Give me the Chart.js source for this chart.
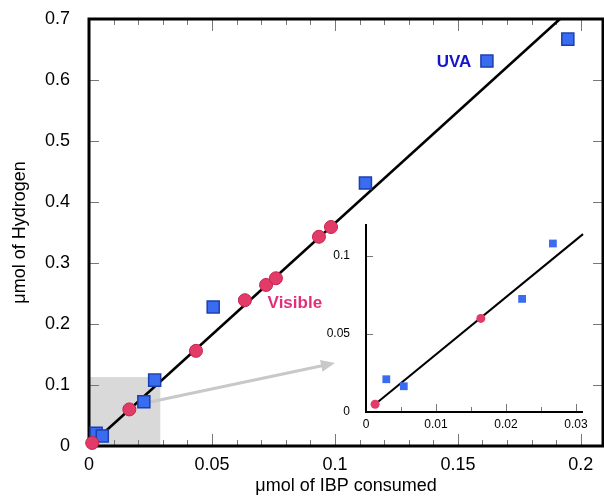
<!DOCTYPE html>
<html>
<head>
<meta charset="utf-8">
<script src="https://cdn.jsdelivr.net/npm/chart.js@4.4.1/dist/chart.umd.min.js"></script>
<style>
  body { margin: 0; background: #fff; }
  #wrap { position: relative; width: 604px; height: 497px; }
  #main { position: absolute; left: 0; top: 0; }
  #inset { position: absolute; left: 316px; top: 212px; }
</style>
</head>
<body>
<div id="wrap">
  <canvas id="main" width="604" height="497"></canvas>
  <canvas id="inset" width="286" height="228"></canvas>
</div>
<script>
// data (µmol)
const visibleX = [0.0013, 0.0164, 0.0435, 0.0634, 0.072, 0.076, 0.0935, 0.0984];
const visibleY = [0.005, 0.06, 0.156, 0.239, 0.264, 0.275, 0.343, 0.359];
const uvaX = [0.0029, 0.0054, 0.0223, 0.0267, 0.0505, 0.1124, 0.1618, 0.1947];
const uvaY = [0.021, 0.0165, 0.0725, 0.108, 0.228, 0.431, 0.631, 0.667];
const fitX = [0.002, 0.1915];
const fitY = [0.007, 0.7];
const insetFitX = [0.0013, 0.031];
const insetFitY = [0.005, 0.114];

const xTicks = [0, 0.05, 0.1, 0.15, 0.2];
const yTicks = [0, 0.1, 0.2, 0.3, 0.4, 0.5, 0.6, 0.7];
const insetXTicks = [0, 0.01, 0.02, 0.03];
const insetYTicks = [0, 0.05, 0.1];

const FONT = "'Liberation Sans', Arial, sans-serif";
const RED = '#e33b68';
const BLUE = '#3a6cf2';

const pts = (xs, ys) => xs.map((x, i) => ({ x: x, y: ys[i] }));
const insetMax = 0.031;
const inInset = (xs, ys) => pts(xs, ys).filter(p => p.x <= insetMax);

// grey zoom box + arrow + ticks + frame on the main chart
const mainDecor = {
  id: 'mainDecor',
  beforeDatasetsDraw(chart) {
    const { ctx, chartArea: a, scales: { x, y } } = chart;
    ctx.save();
    // zoom box
    ctx.fillStyle = '#d9d9d9';
    const bx = x.getPixelForValue(0.029), by = y.getPixelForValue(0.113);
    ctx.fillRect(a.left, by, bx - a.left, a.bottom - by);

    // arrow to the inset
    const x0 = x.getPixelForValue(0.0248), y0 = y.getPixelForValue(0.072);
    const x1 = x.getPixelForValue(0.1), y1 = y.getPixelForValue(0.136);
    const ang = Math.atan2(y1 - y0, x1 - x0);
    ctx.strokeStyle = '#c8c8c8';
    ctx.fillStyle = '#c8c8c8';
    ctx.lineWidth = 3;
    ctx.beginPath();
    ctx.moveTo(x0, y0);
    ctx.lineTo(x1 - 12 * Math.cos(ang), y1 - 12 * Math.sin(ang));
    ctx.stroke();
    ctx.beginPath();
    ctx.moveTo(x1, y1);
    ctx.lineTo(x1 - 14 * Math.cos(ang) + 6 * Math.sin(ang), y1 - 14 * Math.sin(ang) - 6 * Math.cos(ang));
    ctx.lineTo(x1 - 14 * Math.cos(ang) - 6 * Math.sin(ang), y1 - 14 * Math.sin(ang) + 6 * Math.cos(ang));
    ctx.closePath();
    ctx.fill();

    // ticks (inward)
    ctx.strokeStyle = '#777';
    ctx.lineWidth = 1;
    ctx.beginPath();
    for (let i = 1; i <= 20; i++) {
      const px = Math.round(x.getPixelForValue(i / 100)) + 0.5;
      const len = i % 5 === 0 ? 12 : 6;
      ctx.moveTo(px, a.bottom); ctx.lineTo(px, a.bottom - len);
      ctx.moveTo(px, a.top); ctx.lineTo(px, a.top + len);
    }
    for (let i = 1; i <= 6; i++) {
      const py = Math.round(y.getPixelForValue(i / 10)) + 0.5;
      ctx.moveTo(a.left, py); ctx.lineTo(a.left + 10, py);
      ctx.moveTo(a.right, py); ctx.lineTo(a.right - 10, py);
    }
    ctx.stroke();

    // frame
    ctx.strokeStyle = '#000';
    ctx.lineWidth = 3;
    ctx.strokeRect(a.left, a.top, a.right - a.left, a.bottom - a.top);
    ctx.restore();
  },
  afterDatasetsDraw(chart) {
    const { ctx, scales: { x, y } } = chart;
    ctx.save();
    ctx.font = 'bold 17px ' + FONT;
    ctx.textAlign = 'center';
    ctx.textBaseline = 'middle';
    ctx.fillStyle = '#1414c8';
    ctx.fillText('UVA', x.getPixelForValue(0.1484), y.getPixelForValue(0.6295));
    ctx.fillStyle = '#e0307a';
    ctx.fillText('Visible', x.getPixelForValue(0.0837), y.getPixelForValue(0.2344));
    ctx.restore();
  }
};

const insetDecor = {
  id: 'insetDecor',
  beforeDatasetsDraw(chart) {
    const { ctx, chartArea: a, scales: { x, y } } = chart;
    ctx.save();
    ctx.strokeStyle = '#777';
    ctx.lineWidth = 1;
    ctx.beginPath();
    for (let i = 1; i <= 6; i++) {
      const px = Math.round(x.getPixelForValue(i * 0.005)) + 0.5;
      const len = i % 2 === 0 ? 8 : 5;
      ctx.moveTo(px, a.bottom); ctx.lineTo(px, a.bottom - len);
    }
    for (let i = 1; i <= 2; i++) {
      const py = Math.round(y.getPixelForValue(i * 0.05)) + 0.5;
      ctx.moveTo(a.left, py); ctx.lineTo(a.left + 7, py);
    }
    ctx.stroke();
    ctx.strokeStyle = '#000';
    ctx.lineWidth = 2;
    ctx.beginPath();
    ctx.moveTo(a.left, a.top);
    ctx.lineTo(a.left, a.bottom);
    ctx.lineTo(a.right, a.bottom);
    ctx.stroke();
    ctx.restore();
  }
};

function axis(min, max, ticks, fit, size, pad, title) {
  const s = {
    type: 'linear',
    min: min,
    max: max,
    afterFit: sc => {
      fit(sc);
      // keep the plot box where the figure has it
      sc.paddingLeft = 0; sc.paddingRight = 0;
      sc.paddingTop = 0; sc.paddingBottom = 0;
    },
    afterBuildTicks: sc => { sc.ticks = ticks.map(v => ({ value: v })); },
    grid: { display: false, drawTicks: false },
    border: { display: false },
    ticks: {
      padding: pad,
      color: '#000',
      autoSkip: false,
      maxRotation: 0,
      font: { size: size, family: FONT },
      callback: v => String(v)
    }
  };
  if (title) s.title = title;
  return s;
}

new Chart(document.getElementById('main'), {
  type: 'scatter',
  data: {
    datasets: [{
      label: 'Visible',
      data: pts(visibleX, visibleY),
      pointStyle: 'circle',
      pointRadius: 6.5,
      backgroundColor: RED,
      borderColor: '#c8204e',
      borderWidth: 1,
      clip: false
    }, {
      label: 'UVA',
      data: pts(uvaX, uvaY),
      pointStyle: 'rect',
      pointRadius: 8.5,
      backgroundColor: BLUE,
      borderColor: '#1c3fae',
      borderWidth: 1.5,
      clip: false
    }, {
      label: 'fit',
      data: pts(fitX, fitY),
      showLine: true,
      pointRadius: 0,
      borderColor: '#000',
      borderWidth: 2.5,
      clip: false
    }]
  },
  options: {
    responsive: false,
    animation: false,
    layout: { autoPadding: false, padding: { top: 19, right: 1, left: 0, bottom: 0 } },
    plugins: { legend: { display: false }, tooltip: { enabled: false } },
    scales: {
      x: axis(0, 0.209, xTicks, s => { s.height = 51; }, 18, 8, {
        display: true, text: 'μmol of IBP consumed', color: '#000',
        font: { size: 18, family: FONT }, padding: { top: 0, bottom: 0 }
      }),
      y: axis(0, 0.7, yTicks, s => { s.width = 89; }, 18, 19, {
        display: true, text: 'μmol of Hydrogen', color: '#000',
        font: { size: 18, family: FONT }, padding: { top: 9, bottom: 0 }
      })
    }
  },
  plugins: [mainDecor]
});

new Chart(document.getElementById('inset'), {
  type: 'scatter',
  data: {
    datasets: [{
      data: inInset(visibleX, visibleY),
      pointStyle: 'circle',
      pointRadius: 4.5,
      backgroundColor: RED,
      borderWidth: 0,
      clip: false
    }, {
      data: inInset(uvaX, uvaY),
      pointStyle: 'rect',
      pointRadius: 5.5,
      backgroundColor: BLUE,
      borderWidth: 0,
      clip: false
    }, {
      data: pts(insetFitX, insetFitY),
      showLine: true,
      pointRadius: 0,
      borderColor: '#000',
      borderWidth: 2,
      clip: false
    }]
  },
  options: {
    responsive: false,
    animation: false,
    layout: { autoPadding: false, padding: { top: 12, right: 19, left: 0, bottom: 0 } },
    plugins: { legend: { display: false }, tooltip: { enabled: false } },
    scales: {
      x: axis(0, insetMax, insetXTicks, s => { s.height = 28; }, 12, 5),
      y: axis(0, 0.1205, insetYTicks, s => { s.width = 50; }, 12, 16)
    }
  },
  plugins: [insetDecor]
});
</script>
</body>
</html>
